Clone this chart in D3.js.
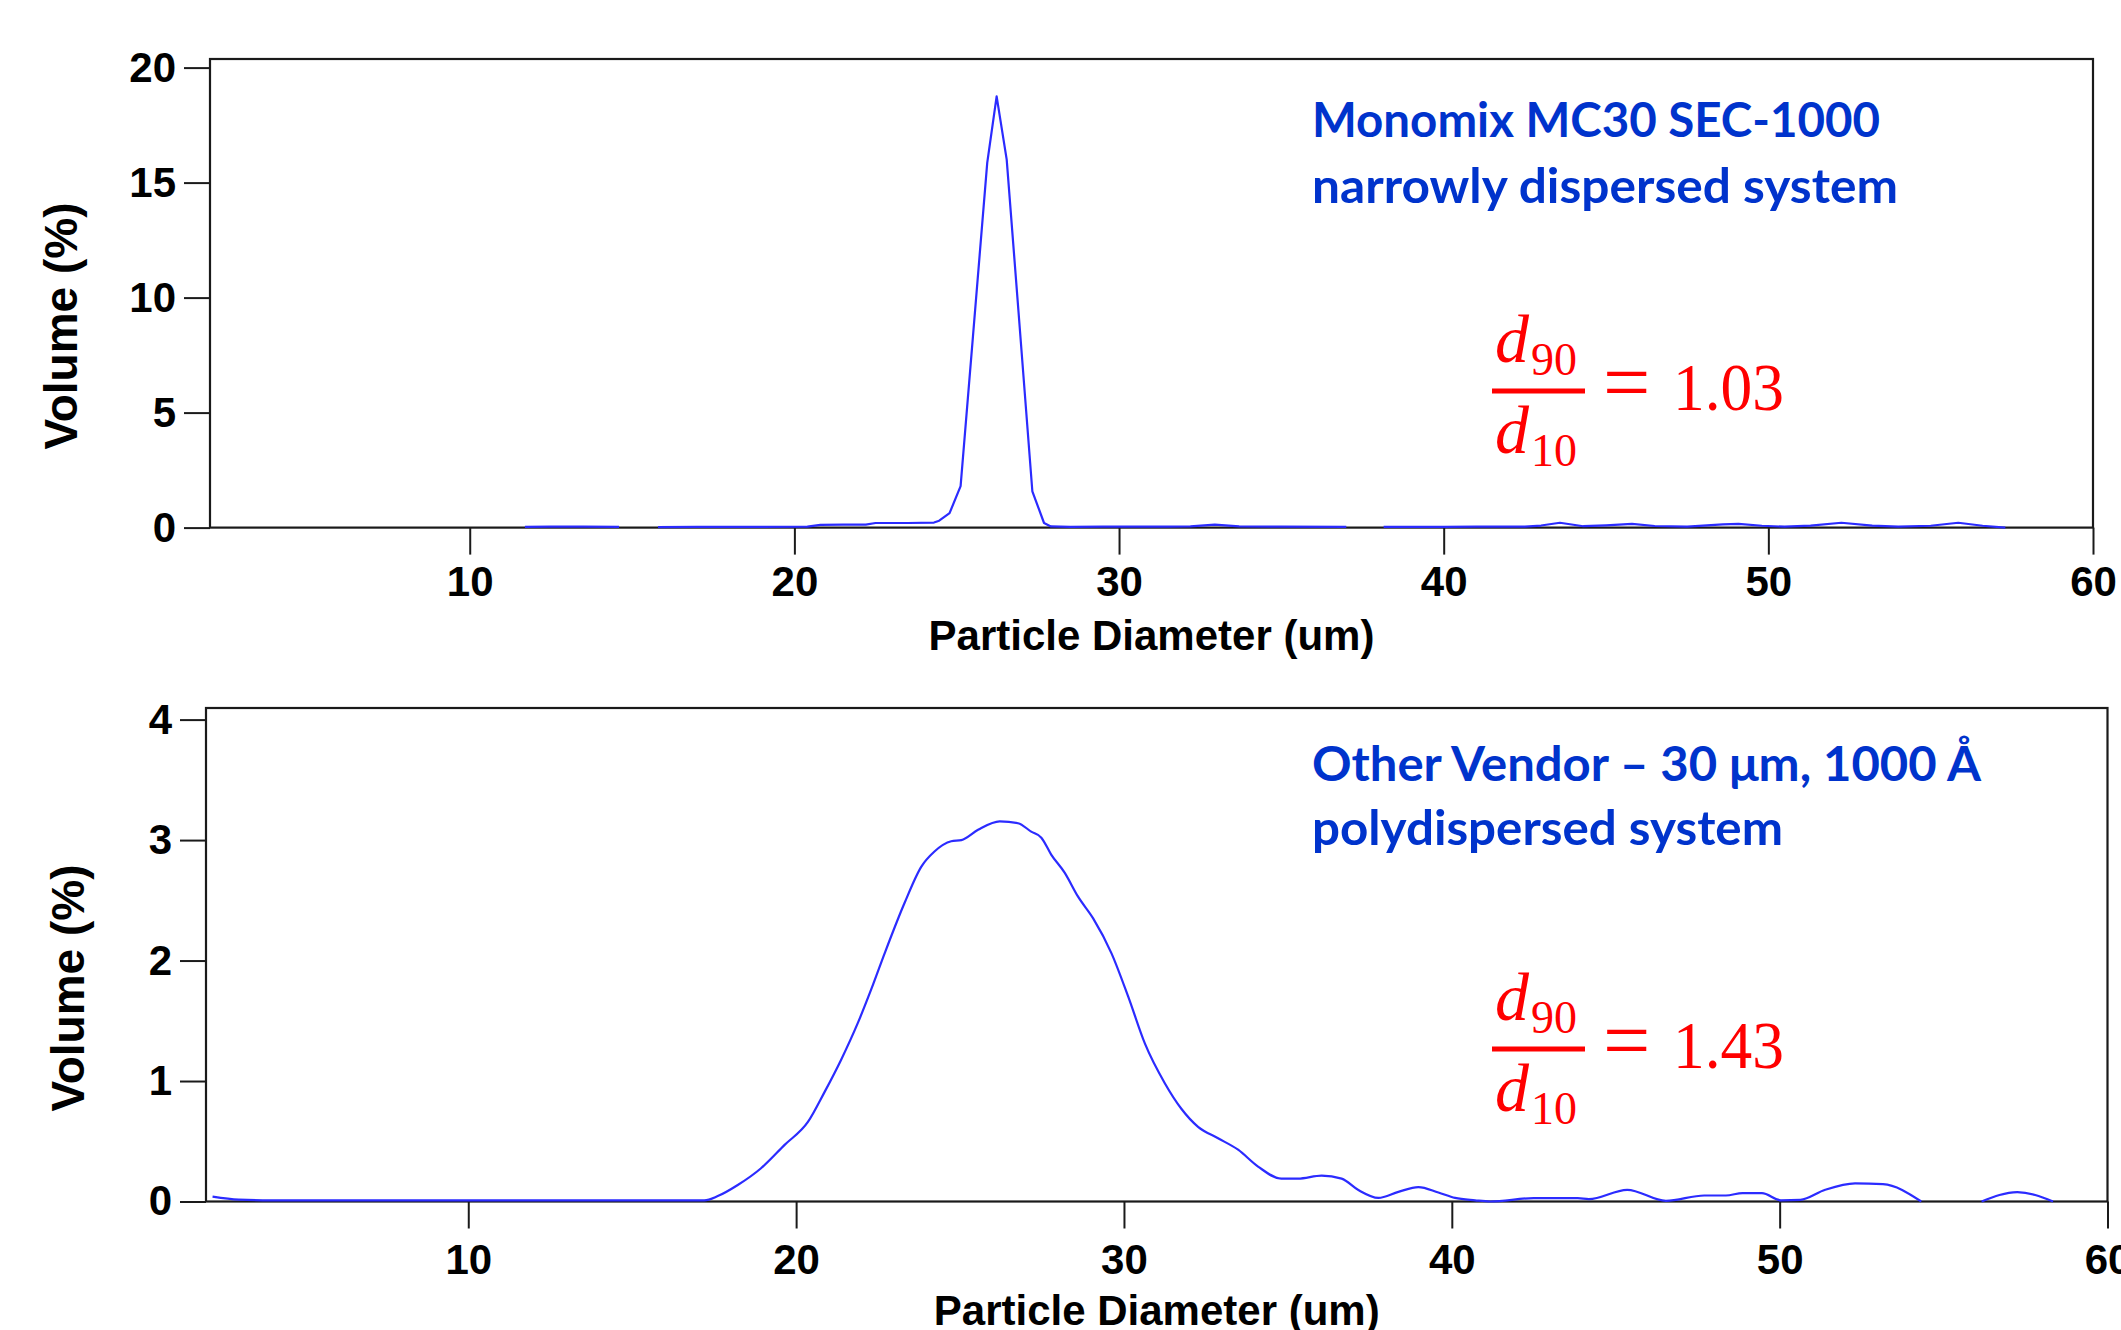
<!DOCTYPE html>
<html><head><meta charset="utf-8">
<script src="https://cdn.jsdelivr.net/npm/d3@7"></script>
<style>html,body{margin:0;padding:0;background:#fff}svg{display:block}</style>
</head><body>
<svg id="chart" width="2121" height="1330"></svg>
<script>
// ---------- data ----------
const xTicks = [10, 20, 30, 40, 50, 60];
const topYTicks = [0, 5, 10, 15, 20];
const botYTicks = [0, 1, 2, 3, 4];

// Monomix MC30 SEC-1000 (null = no data drawn)
const topX = [11.7, 12.5, 13.5, 14.6, 15.2, 15.8, 17, 18, 19, 20.4, 20.8, 21.5, 22.2, 22.5, 23.5, 24.3, 24.46, 24.78, 25.12, 25.5, 25.94, 26.23, 26.54, 26.9, 27.33, 27.69, 27.9, 28.5, 29.5, 30.5, 31.5, 32.2, 32.95, 33.7, 35.0, 37.0, 37.5, 38.15, 39, 40, 41, 42.5, 43.0, 43.58, 44.3, 45.0, 45.8, 46.5, 47.5, 48.6, 49.08, 49.8, 50.5, 51.3, 52.25, 53.2, 54.0, 55.0, 55.85, 56.6, 57.3];
const topY = [0.03, 0.04, 0.04, 0.03, null, 0.02, 0.03, 0.03, 0.03, 0.04, 0.12, 0.13, 0.13, 0.2, 0.2, 0.22, 0.3, 0.63, 1.8, 8.3, 15.86, 18.75, 16.0, 9.45, 1.58, 0.2, 0.05, 0.03, 0.04, 0.04, 0.04, 0.05, 0.13, 0.05, 0.04, 0.03, null, 0.03, 0.03, 0.03, 0.04, 0.04, 0.09, 0.21, 0.06, 0.1, 0.16, 0.07, 0.04, 0.14, 0.16, 0.08, 0.04, 0.09, 0.21, 0.09, 0.04, 0.08, 0.21, 0.08, 0.0];

// Other Vendor 30 um 1000 A
const botX = [2.2, 3, 4, 5, 6, 7, 8, 9, 10, 11, 12, 13, 14, 15, 16, 17.2, 17.61, 18.22, 18.93, 19.65, 20.36, 20.87, 21.37, 21.88, 22.29, 22.7, 23.31, 23.82, 24.22, 24.73, 25.04, 25.55, 26.21, 26.77, 27.17, 27.48, 27.78, 28.19, 28.6, 29.06, 29.62, 30.13, 30.64, 31.25, 31.75, 32.26, 32.87, 33.48, 34.09, 34.8, 35.31, 36.03, 36.64, 37.15, 37.76, 38.37, 38.98, 39.59, 40.1, 40.71, 41.17, 42.5, 43.84, 44.18, 45.35, 46.53, 47.7, 48.36, 48.87, 49.46, 50.04, 50.63, 51.39, 52.3, 53.15, 54.32, 55.2, 56.16, 57.25, 58.34];
const botY = [0.04, 0.015, 0.01, 0.01, 0.01, 0.01, 0.01, 0.01, 0.01, 0.01, 0.01, 0.01, 0.01, 0.01, 0.01, 0.01, 0.045, 0.137, 0.276, 0.47, 0.66, 0.91, 1.175, 1.48, 1.76, 2.06, 2.48, 2.78, 2.905, 2.99, 3.0, 3.085, 3.155, 3.14, 3.07, 3.02, 2.88, 2.73, 2.53, 2.35, 2.06, 1.70, 1.31, 0.98, 0.77, 0.62, 0.525, 0.43, 0.29, 0.19, 0.19, 0.215, 0.19, 0.095, 0.03, 0.08, 0.12, 0.075, 0.03, 0.01, 0.0, 0.028, 0.028, 0.02, 0.097, 0.005, 0.05, 0.05, 0.07, 0.07, 0.01, 0.014, 0.097, 0.15, 0.144, 0.0, null, 0.0, 0.078, 0.0];

const topLabel = ["Monomix MC30 SEC-1000", "narrowly dispersed system"];
const botLabel = ["Other Vendor \u2013 30 \u03bcm, 1000 \u00c5", "polydispersed system"];
const topRatio = "1.03";
const botRatio = "1.43";
const xTitle = "Particle Diameter (um)";
const yTitle = "Volume (%)";

// ---------- drawing ----------
const svg = d3.select("#chart");
svg.append("rect").attr("width", 2121).attr("height", 1330).attr("fill", "#fff");

const AX = "#1a1a1a";
const SANS = "'Liberation Sans', Arial, sans-serif";
const LABEL_FONT = "Lato, 'Open Sans', sans-serif";
const SERIF = "'Liberation Serif', 'Times New Roman', serif";

function panel(o) {
  const g = svg.append("g");
  const x = d3.scaleLinear().domain([2, 60]).range([o.left, o.right]);
  const y = d3.scaleLinear().domain([0, o.yTicks[o.yTicks.length - 1]]).range([o.zero, o.yTopTickPos]);

  // frame
  g.append("rect")
    .attr("x", o.left).attr("y", o.frameTop)
    .attr("width", o.right - o.left).attr("height", o.zero - o.frameTop)
    .attr("fill", "none").attr("stroke", AX).attr("stroke-width", 2.2);

  // axes
  const xa = g.append("g").attr("transform", `translate(0,${o.zero})`)
    .call(d3.axisBottom(x).tickValues(xTicks).tickSize(27).tickPadding(o.xPad).tickFormat(d3.format("d")));
  const ya = g.append("g").attr("transform", `translate(${o.left},0)`)
    .call(d3.axisLeft(y).tickValues(o.yTicks).tickSize(26).tickPadding(8).tickFormat(d3.format("d")));
  [xa, ya].forEach(a => {
    a.select(".domain").remove();
    a.selectAll(".tick line").attr("stroke", AX).attr("stroke-width", 2);
    a.selectAll(".tick text").attr("fill", "#000")
      .style("font-family", SANS).style("font-weight", "bold").style("font-size", "42px");
  });

  // series
  const data = o.xs.map((v, i) => ({ x: v, y: o.ys[i] }));
  const line = d3.line().defined(d => d.y != null).x(d => x(d.x)).y(d => y(d.y)).curve(o.curve);
  g.append("path").datum(data).attr("d", line)
    .attr("fill", "none").attr("stroke", "#2b2bff").attr("stroke-width", 2.2)
    .attr("stroke-linejoin", "round");

  // axis titles
  g.append("text").attr("x", (o.left + o.right) / 2).attr("y", o.xTitleY)
    .attr("text-anchor", "middle").attr("fill", "#000")
    .style("font-family", SANS).style("font-weight", "bold").style("font-size", "42px")
    .text(xTitle);
  g.append("text").attr("transform", `translate(${o.yTitleX},${o.yTitleY}) rotate(-90)`)
    .attr("text-anchor", "middle").attr("fill", "#000")
    .style("font-family", SANS).style("font-weight", "bold").style("font-size", "46px")
    .text(yTitle);

  // annotation
  o.label.forEach((t, i) => {
    g.append("text").attr("x", 1312).attr("y", o.labelY[i])
      .attr("fill", "#0033cc")
      .attr("textLength", o.labelW[i]).attr("lengthAdjust", "spacingAndGlyphs")
      .style("font-family", LABEL_FONT).style("font-weight", "bold").style("font-size", "47px")
      .text(t);
  });

  // ratio formula d90/d10 = r
  const by = o.barY, bx = 1492, red = "#ff0000";
  const f = g.append("g").attr("fill", red).style("font-family", SERIF);
  f.append("text").attr("x", bx + 3).attr("y", by - 29).style("font-style", "italic").style("font-size", "68px").text("d");
  f.append("text").attr("x", bx + 39).attr("y", by - 16).style("font-size", "46px").text("90");
  f.append("rect").attr("x", bx).attr("y", by - 2.5).attr("width", 93).attr("height", 5);
  f.append("text").attr("x", bx + 3).attr("y", by + 62).style("font-style", "italic").style("font-size", "68px").text("d");
  f.append("text").attr("x", bx + 39).attr("y", by + 75).style("font-size", "46px").text("10");
  f.append("text").attr("x", 1603).attr("y", by + 20).style("font-size", "84px").text("=");
  f.append("text").attr("x", 1673).attr("y", by + 19).style("font-size", "68px")
    .attr("textLength", 111).attr("lengthAdjust", "spacingAndGlyphs").text(o.ratio);
}

panel({
  left: 210, right: 2093, frameTop: 59, zero: 527.6, yTopTickPos: 67.6,
  yTicks: topYTicks, xs: topX, ys: topY, curve: d3.curveLinear, xPad: 12,
  xTitleY: 650, yTitleX: 77, yTitleY: 326,
  label: topLabel, labelY: [137, 203], labelW: [568, 586],
  barY: 391, ratio: topRatio
});

panel({
  left: 206, right: 2107.5, frameTop: 708, zero: 1201.5, yTopTickPos: 719.6,
  yTicks: botYTicks, xs: botX, ys: botY, curve: d3.curveMonotoneX, xPad: 16,
  xTitleY: 1325, yTitleX: 84, yTitleY: 988,
  label: botLabel, labelY: [781, 845], labelW: [669, 471],
  barY: 1049, ratio: botRatio
});
</script>
</body></html>
